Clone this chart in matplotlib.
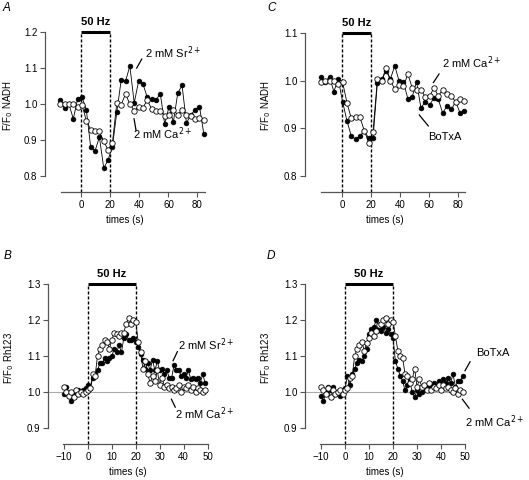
import matplotlib
matplotlib.use("Agg")
import matplotlib.pyplot as plt

plt.rcParams["font.family"] = ["Liberation Sans", "DejaVu Sans"]

# NADH traces (panels A and C), sampled every ~3 s
t_nadh = [-14.6, -11.6, -8.6, -5.6, -2.6, 0.4, 3.4, 6.4, 9.4, 12.4, 15.4, 18.4,
          21.4, 24.4, 27.4, 30.4, 33.4, 36.4, 39.4, 42.4, 45.4, 48.4, 51.4, 54.4,
          57.4, 60.4, 63.4, 66.4, 69.4, 72.4, 75.4, 78.4, 81.4, 84.4]
a_sr = [1.012, 0.989, 1.000, 0.959, 1.014, 1.019, 0.984, 0.880, 0.870, 0.908,
        0.822, 0.845, 0.882, 0.978, 1.066, 1.063, 1.106, 1.003, 1.063, 1.056,
        1.019, 1.014, 1.012, 1.028, 0.945, 0.992, 0.950, 1.030, 1.052, 0.947,
        0.970, 0.984, 0.993, 0.917]
a_ca = [1.0, 1.0, 1.0, 1.0, 0.993, 0.997, 0.954, 0.929, 0.926, 0.924,
        0.896, 0.873, 0.893, 1.003, 0.998, 1.028, 1.0, 0.982, 0.992, 0.989,
        1.012, 0.986, 0.982, 0.981, 0.966, 0.970, 0.984, 0.970, 0.984, 0.970,
        0.968, 0.959, 0.961, 0.956]
c_botx = [1.007, 0.998, 1.008, 0.977, 1.004, 0.956, 0.916, 0.884, 0.877, 0.884,
          0.895, 0.879, 0.879, 0.996, 1.003, 1.020, 1.004, 1.031, 0.999, 0.997,
          0.962, 0.966, 0.998, 0.943, 0.955, 0.949, 0.964, 0.961, 0.932, 0.947,
          0.940, 0.956, 0.932, 0.936]
c_ca = [0.998, 1.0, 1.0, 1.0, 0.993, 0.997, 0.954, 0.921, 0.924, 0.923,
        0.895, 0.870, 0.893, 1.003, 1.0, 1.027, 1.0, 0.982, 0.990, 0.988,
        1.014, 0.985, 0.980, 0.981, 0.966, 0.967, 0.985, 0.968, 0.981, 0.971,
        0.967, 0.956, 0.961, 0.957]

# Rh123 traces (panels B and D), sampled every 1 s
t_rh = [-10, -9, -8, -7, -6, -5, -4, -3, -2, -1,
        0, 1, 2, 3, 4, 5, 6, 7, 8, 9,
        10, 11, 12, 13, 14, 15, 16, 17, 18, 19,
        20, 21, 22, 23, 24, 25, 26, 27, 28, 29,
        30, 31, 32, 33, 34, 35, 36, 37, 38, 39,
        40, 41, 42, 43, 44, 45, 46, 47, 48, 49]
b_sr = [0.995, 1.015, 0.99, 0.975, 1.0, 0.995, 1.005, 1.0, 1.005, 1.01,
        1.02, 1.01, 1.04, 1.05, 1.06, 1.08, 1.08, 1.095, 1.085, 1.095,
        1.1, 1.12, 1.11, 1.13, 1.11, 1.15, 1.16, 1.145, 1.145, 1.15,
        1.14, 1.125, 1.105, 1.09, 1.065, 1.08, 1.06, 1.09, 1.06, 1.085,
        1.06, 1.065, 1.05, 1.06, 1.04, 1.04, 1.075, 1.06, 1.06, 1.045,
        1.05, 1.04, 1.06, 1.035, 1.04, 1.035, 1.04, 1.025, 1.05, 1.025]
b_ca = [1.015, 1.0, 0.99, 1.0, 0.985, 1.005, 0.995, 1.0, 0.995, 1.0,
        1.005, 1.01, 1.05, 1.045, 1.1, 1.12, 1.13, 1.145, 1.14, 1.12,
        1.145, 1.165, 1.16, 1.155, 1.165, 1.165, 1.19, 1.205, 1.19, 1.2,
        1.195, 1.14, 1.11, 1.065, 1.085, 1.05, 1.025, 1.045, 1.03, 1.06,
        1.02, 1.04, 1.015, 1.02, 1.01, 1.015, 1.005, 1.01, 1.02, 1.0,
        1.015, 1.01, 1.02, 1.005, 1.015, 1.0, 1.01, 1.005, 1.0, 1.005]
d_botx = [0.99, 0.975, 1.0, 1.015, 1.005, 1.015, 0.995, 1.0, 0.99, 1.005,
          1.01, 1.045, 1.02, 1.05, 1.065, 1.08, 1.09, 1.085, 1.1, 1.12,
          1.16, 1.175, 1.18, 1.2, 1.175, 1.17, 1.18, 1.165, 1.175, 1.16,
          1.15, 1.085, 1.065, 1.045, 1.03, 1.005, 1.02, 1.03, 1.0, 0.985,
          1.005, 0.995, 1.0, 1.01, 1.015, 1.005, 1.02, 1.025, 1.015, 1.03,
          1.025, 1.035, 1.025, 1.04, 1.025, 1.05, 1.015, 1.03, 1.03, 1.045]
d_ca = [1.015, 1.005, 0.995, 1.01, 0.985, 1.005, 0.995, 1.0, 1.005, 0.995,
        1.005, 1.01, 1.04, 1.045, 1.1, 1.12, 1.13, 1.14, 1.115, 1.135,
        1.15, 1.165, 1.155, 1.17, 1.185, 1.19, 1.2, 1.205, 1.19, 1.2,
        1.195, 1.155, 1.115, 1.1, 1.095, 1.05, 1.045, 1.025, 1.035, 1.065,
        1.015, 1.035, 1.015, 1.02, 1.005, 1.025, 1.005, 1.015, 1.01, 1.02,
        1.005, 1.02, 1.01, 1.015, 1.005, 1.0, 1.01, 0.995, 1.005, 1.0]

W, H = 529, 480
fig = plt.figure(figsize=(W / 100, H / 100), dpi=100)

SPINE = "#555555"
TICK_FS = 7


def make_axes(left, bottom_px, xlim, xbounds, ylim, ybounds, xticks, yticks):
    # left / bottom_px are pixel positions of the y spine and x spine
    ax = fig.add_axes([left / W, (H - bottom_px) / H, 160 / W, 172 / H])
    ax.set_xlim(*xlim)
    ax.set_ylim(*ylim)
    for s in ("top", "right"):
        ax.spines[s].set_visible(False)
    ax.spines["left"].set_bounds(*ybounds)
    ax.spines["bottom"].set_bounds(*xbounds)
    for s in ("left", "bottom"):
        ax.spines[s].set_color(SPINE)
        ax.spines[s].set_linewidth(0.9)
    ax.set_xticks(xticks)
    ax.set_yticks(yticks)
    ax.set_yticklabels([f"{v:.1f}" for v in yticks])
    ax.tick_params(direction="out", length=3.5, width=0.8, color=SPINE,
                   labelsize=TICK_FS, pad=2)
    ax.set_xlabel("times (s)", fontsize=TICK_FS, labelpad=4)
    ax.patch.set_visible(False)
    return ax


def stim(ax, top):
    bot = ax.get_ylim()[0]
    ax.vlines([0, 20], bot, top, colors="black", linestyles=(0, (2.2, 1.4)),
              lw=1.0, clip_on=False)
    ax.hlines(top, 0, 20, colors="black", lw=2.2, clip_on=False)
    ax.annotate("50 Hz", xy=(10, top), xytext=(0, 3.5), textcoords="offset points",
                ha="center", va="bottom", fontsize=8, fontweight="bold")


def traces(ax, t, filled, hollow):
    ax.plot(t, filled, "-o", color="black", lw=0.6, ms=3.4, mfc="black",
            mec="black", mew=0.5, clip_on=False, zorder=3)
    ax.plot(t, hollow, "-o", color="black", lw=0.6, ms=3.9, mfc="white",
            mec="black", mew=0.6, clip_on=False, zorder=4)


def label(ax, text, xy, xytext, line_from):
    ax.plot([line_from[0], xy[0]], [line_from[1], xy[1]], color="black", lw=0.9,
            clip_on=False)
    ax.text(xytext[0], xytext[1], text, fontsize=8, ha="left", va="center")


# Panel A
axA = make_axes(45, 192, (-25.1, 85.2), (-14, 85.2), (0.7556, 1.2336), (0.8, 1.2),
                [0, 20, 40, 60, 80], [0.8, 0.9, 1.0, 1.1, 1.2])
stim(axA, 1.2)
traces(axA, t_nadh, a_sr, a_ca)
label(axA, "2 mM Sr$^{2+}$", (38.1, 1.1), (44.0, 1.142), (41.6, 1.125))
label(axA, "2 mM Ca$^{2+}$", (37.7, 0.926), (35.6, 0.918), (36.3, 0.959))
axA.set_ylabel("F/F$_0$ NADH", fontsize=TICK_FS)
axA.yaxis.set_label_coords(-0.185, 0.5)

# Panel C
axC = make_axes(305, 192, (-25.5, 84.8), (-14.5, 84.8), (0.7664, 1.1273), (0.8, 1.1),
                [0, 20, 40, 60, 80], [0.8, 0.9, 1.0, 1.1])
stim(axC, 1.1)
traces(axC, t_nadh, c_botx, c_ca)
label(axC, "2 mM Ca$^{2+}$", (63.0, 0.996), (68.8, 1.037), (66.9, 1.014))
label(axC, "BoTxA", (59.5, 0.905), (59.3, 0.882), (53.3, 0.928))
axC.set_ylabel("F/F$_0$ NADH", fontsize=TICK_FS)
axC.yaxis.set_label_coords(-0.2, 0.5)

# Panel B
axB = make_axes(48, 444, (-16.7, 50.2), (-10.3, 50.2), (0.8556, 1.3333), (0.9, 1.3),
                [-10, 0, 10, 20, 30, 40, 50], [0.9, 1.0, 1.1, 1.2, 1.3])
axB.axhline(1.0, color="#aaaaaa", lw=0.8, zorder=1)
stim(axB, 1.3)
traces(axB, t_rh, b_sr, b_ca)
label(axB, "2 mM Sr$^{2+}$", (35.6, 1.087), (37.5, 1.131), (37.4, 1.112))
label(axB, "2 mM Ca$^{2+}$", (34.9, 0.980), (36.3, 0.941), (36.5, 0.958))
axB.set_ylabel("F/F$_0$ Rh123", fontsize=TICK_FS)
axB.yaxis.set_label_coords(-0.2, 0.5)

# Panel D
axD = make_axes(305, 444, (-16.7, 50.0), (-10.3, 50.0), (0.8556, 1.3333), (0.9, 1.3),
                [-10, 0, 10, 20, 30, 40, 50], [0.9, 1.0, 1.1, 1.2, 1.3])
axD.axhline(1.0, color="#aaaaaa", lw=0.8, zorder=1)
stim(axD, 1.3)
traces(axD, t_rh, d_botx, d_ca)
label(axD, "BoTxA", (50.0, 1.059), (54.5, 1.107), (52.1, 1.084))
label(axD, "2 mM Ca$^{2+}$", (48.9, 0.980), (50.0, 0.918), (51.7, 0.955))
axD.set_ylabel("F/F$_0$ Rh123", fontsize=TICK_FS)
axD.yaxis.set_label_coords(-0.2, 0.5)

# panel letters
for letter, x, y in [("A", 3, 2), ("C", 267, 2), ("B", 4, 250), ("D", 267, 250)]:
    fig.text(x / W, 1 - y / H, letter, fontsize=8.5, fontstyle="italic",
             ha="left", va="top")

fig.savefig("out.png", dpi=100)
